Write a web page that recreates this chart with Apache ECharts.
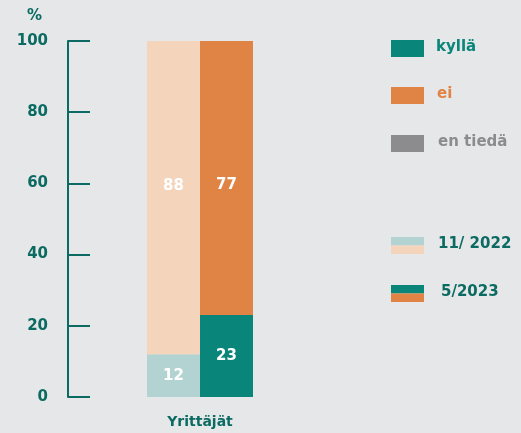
<!DOCTYPE html>
<html>
<head>
<meta charset="utf-8">
<script src="https://cdn.jsdelivr.net/npm/echarts@6/dist/echarts.min.js"></script>
<style>
  html, body { margin: 0; padding: 0; background: #e6e7e8; }
  #chart { width: 521px; height: 433px; }
</style>
</head>
<body>
<div id="chart"></div>
<script>
// data
const categories = ['Yrittäjät']
const kylla2022 = [12]
const ei2022 = [88]
const kylla2023 = [23]
const ei2023 = [77]
const yTicks = [0, 20, 40, 60, 80, 100]

const TEAL_DARK = '#0b6b62'
const font = '"DejaVu Sans", sans-serif'

const chart = echarts.init(document.getElementById('chart'))

const whiteLabel = (dy) => ({
  show: true,
  position: 'inside',
  color: '#fff',
  fontFamily: font,
  fontWeight: 'bold',
  fontSize: 15,
  offset: [0, dy]
})

// legend drawn as graphic
const legendItem = (y, colors, text, textColor, tx) => {
  const els = []
  if (colors.length === 1) {
    els.push({ type: 'rect', left: 391, top: y, shape: { width: 33, height: 17 }, style: { fill: colors[0] } })
  } else {
    els.push({ type: 'rect', left: 391, top: y, shape: { width: 33, height: 8.5 }, style: { fill: colors[0] } })
    els.push({ type: 'rect', left: 391, top: y + 8.5, shape: { width: 33, height: 8.5 }, style: { fill: colors[1] } })
  }
  els.push({
    type: 'text', left: tx, top: y,
    style: { text: text, fill: textColor, font: 'bold 15px ' + font }
  })
  return els
}

const option = {
  backgroundColor: '#e6e7e8',
  animation: false,
  grid: { left: 68, right: 189, top: 41, bottom: 36 },
  xAxis: {
    type: 'category',
    data: categories,
    axisLine: { show: false },
    axisTick: { show: false },
    axisLabel: { color: TEAL_DARK, fontFamily: font, fontWeight: 'bold', fontSize: 14, margin: 18 }
  },
  yAxis: {
    type: 'value',
    min: 0,
    max: 100,
    interval: 20,
    name: '%',
    nameLocation: 'end',
    nameGap: 17,
    nameTextStyle: { color: TEAL_DARK, fontFamily: font, fontWeight: 'bold', fontSize: 15, align: 'right', padding: [0, 26, 0, 0] },
    axisLine: { show: true, lineStyle: { color: TEAL_DARK, width: 2 } },
    axisTick: { show: true, inside: true, length: 22, lineStyle: { color: TEAL_DARK, width: 2 } },
    splitLine: { show: false },
    axisLabel: {
      color: TEAL_DARK, fontFamily: font, fontWeight: 'bold', fontSize: 15, margin: 20,
      formatter: v => yTicks.includes(v) ? String(v) : ''
    }
  },
  series: [
    { name: 'kyllä 11/2022', type: 'bar', stack: 'a', data: kylla2022, barWidth: 53, barGap: '0%',
      itemStyle: { color: '#b3d3d2' }, label: whiteLabel(0) },
    { name: 'ei 11/2022', type: 'bar', stack: 'a', data: ei2022, barWidth: 53,
      itemStyle: { color: '#f4d4bb' }, label: whiteLabel(-12) },
    { name: 'kyllä 5/2023', type: 'bar', stack: 'b', data: kylla2023, barWidth: 53,
      itemStyle: { color: '#0a857a' }, label: whiteLabel(0) },
    { name: 'ei 5/2023', type: 'bar', stack: 'b', data: ei2023, barWidth: 53,
      itemStyle: { color: '#e08446' }, label: whiteLabel(7) }
  ],
  graphic: [
    ...legendItem(40, ['#0a857a'], 'kyllä', '#0a857a', 436),
    ...legendItem(87, ['#e08446'], 'ei', '#e08446', 437),
    ...legendItem(135, ['#8c8c8e'], 'en tiedä', '#8c8c8e', 438),
    ...legendItem(237, ['#b3d3d2', '#f4d4bb'], '11/ 2022', TEAL_DARK, 438),
    ...legendItem(285, ['#0a857a', '#e08446'], '5/2023', TEAL_DARK, 441)
  ]
}

chart.setOption(option)
</script>
</body>
</html>
